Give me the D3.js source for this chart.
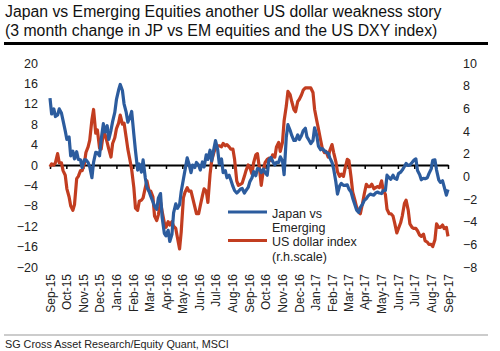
<!DOCTYPE html>
<html>
<head>
<meta charset="utf-8">
<script src="https://cdn.jsdelivr.net/npm/d3@7"></script>
<style>
  body { margin: 0; background: #fff; }
  svg { display: block; font-family: "Liberation Sans", Arial, sans-serif; }
</style>
</head>
<body>
<div id="chart"></div>
<script>
// Twice-weekly readings (Tue / Fri), Sep 2015 - Sep 2017
const startDate = new Date(2015, 8, 1);
const endDate = new Date(2017, 8, 1);

// Japan vs Emerging, 3m % change (left scale)
const japanVsEm = [
  13.1, 10.0, 11.0, 9.5, 9.8, 11.0, 10.2, 8.7, 6.7, 5.0,
  5.5, 1.8, 2.7, 1.2, 2.6, 1.1, 1.0, -0.5, 1.0, 1.0,
  0.5, -0.4, -2.5, 0.5, 2.5, 2.4, 1.8, 5.0, 8.1, 6.5,
  7.7, 5.0, 6.8, 8.5, 10.3, 12.8, 14.7, 15.8, 14.6, 12.0,
  10.3, 8.4, 9.4, 10.5, 6.0, 2.8, -1.0, 0.2, -1.4, 1.0,
  -2.5, -4.4, -5.2, -6.1, -7.2, -8.1, -8.7, -6.5, -5.6, -10.3,
  -13.4, -13.9, -12.8, -15.0, -13.6, -9.4, -7.6, -8.5, -7.8, -5.2,
  -2.8, -1.0, 1.4, 0.3, -1.5, 0.0, -0.5, 0.5, 0.0, -1.0,
  0.6, -0.4, 2.0, 1.1, 2.9, 0.8, 3.2, 4.8, 3.0, 0.2,
  1.2, -1.5, -1.1, -2.5, -2.0, -2.9, -4.2, -5.0, -5.5, -5.2,
  -4.7, -4.6, -5.5, -5.0, -4.4, -3.3, -2.5, -1.3, -2.1, -0.7,
  -0.8, -1.5, -0.8, -1.5, -2.0, 1.0, 1.5, 0.7, 0.0, 0.5,
  0.5, 1.6, 0.8, -1.9, 5.5, 7.9, 6.8, 5.8, 4.8, 4.8,
  5.9, 5.0, 5.8, 6.7, 7.2, 5.5, 4.8, 4.2, 4.8, 7.3,
  5.8, 3.7, 3.0, 3.2, 2.8, 2.5, 2.3, 1.4, 0.5, -0.8,
  -3.3, -5.7, -4.1, -3.6, -4.0, -4.0, -3.9, -4.7, -5.3, -6.5,
  -7.8, -8.8, -9.3, -8.3, -7.7, -7.0, -6.6, -6.1, -5.7, -5.8,
  -5.9, -5.5, -5.3, -5.5, -5.6, -5.0, -5.0, -2.0, -2.5, -2.8,
  -2.0, -2.6, -2.8, -1.7, -1.4, -1.0, -0.3, 0.3, -0.1, 0.0,
  0.5, 0.9, 1.2, -1.1, -1.9, -2.9, -2.6, -2.7, -2.5, -1.7,
  -0.8, 0.9, 1.0, -1.0, -2.9, -3.4, -3.1, -4.3, -5.9, -4.8
];

// US dollar index (DXY), 3m % change (right scale)
const usDollar = [
  0.85, 1.1, 1.0, 1.2, 2.0, 1.2, 1.2, 0.5, 0.1, -1.1,
  -1.8, -2.6, -3.0, -2.5, -0.2, 0.0, 0.5, 0.5, 1.1, 2.1,
  2.6, 3.2, 5.0, 5.9, 3.8, 4.1, 2.5, 2.4, 3.8, 3.7,
  3.0, 2.4, 1.7, 2.9, 3.4, 4.2, 4.7, 5.4, 4.6, 4.7,
  3.4, 2.4, 1.4, 0.6, -1.0, -2.8, -3.0, -2.2, -2.1, -1.9,
  -1.0, -0.4, -1.3, -1.3, -1.8, -3.5, -3.9, -3.4, -2.3, -3.1,
  -4.1, -4.5, -4.0, -4.3, -4.0, -4.4, -4.6, -5.4, -6.4, -4.9,
  -1.9, -1.4, -1.0, -1.3, -1.3, -1.9, -2.7, -3.3, -3.3, -2.6,
  -1.7, -1.1, -1.3, -2.3, 0.2, 1.4, 2.1, 2.5, 2.7, 2.7,
  2.6, 2.9, 2.7, 2.8, 2.6, 2.4, 2.4, 1.5, -0.4, -0.8,
  -0.7, -0.6, 0.0, 0.5, 1.0, 0.8, 0.2, 1.2, 1.9, 2.0,
  0.6, -0.8, 0.6, 1.2, 1.5, 1.6, 1.4, 1.9, 1.7, 2.6,
  3.0, 2.2, 3.0, 4.9, 6.2, 7.5, 7.2, 6.6, 5.9, 5.7,
  6.6, 6.8, 7.2, 7.6, 7.8, 7.8, 7.8, 7.8, 7.4, 5.9,
  4.9, 4.2, 3.2, 2.5, 2.1, 2.2, 1.7, 2.3, 2.8, 2.1,
  1.3, 0.4, 0.0, 0.2, 0.0, 0.7, 1.5, 1.4, -0.1, -1.4,
  -2.1, -2.7, -3.1, -3.3, -2.4, -1.6, -0.7, -0.9, -0.9, -0.7,
  -1.1, -1.0, -0.9, -1.0, -0.4, -1.2, -1.6, -2.9, -3.3, -3.3,
  -3.5, -4.1, -5.0, -4.6, -4.1, -3.5, -2.4, -2.1, -3.0, -4.2,
  -4.5, -4.6, -4.6, -4.8, -5.2, -5.3, -5.1, -5.7, -5.8, -6.0,
  -6.0, -6.2, -5.6, -4.2, -4.5, -4.5, -4.3, -4.6, -4.5, -5.3
];

const leftTicks = [20, 16, 12, 8, 4, 0, -4, -8, -12, -16, -20];
const rightTicks = [10, 8, 6, 4, 2, 0, -2, -4, -6, -8];

const titleLines = [
  "Japan vs Emerging Equities another US dollar weakness story",
  "(3 month change in JP vs EM equities and the US DXY index)"
];
const legendItems = [
  { lines: ["Japan vs", "Emerging"], color: "#2c5c9e" },
  { lines: ["US dollar index", "(r.h.scale)"], color: "#c23d20" }
];
const source = "SG Cross Asset Research/Equity Quant, MSCI";

// dates: every Tuesday and Friday
const dates = d3.timeTuesday.range(startDate, d3.timeDay.offset(endDate, 1))
  .concat(d3.timeFriday.range(startDate, d3.timeDay.offset(endDate, 1)))
  .sort((a, b) => a - b);

const width = 500, height = 351;

const svg = d3.select("#chart").append("svg")
  .attr("width", width)
  .attr("height", height);

// title
svg.append("g").selectAll("text")
  .data(titleLines)
  .join("text")
  .attr("x", 5)
  .attr("y", (d, i) => 17 + i * 19)
  .attr("font-size", "15.8px")
  .attr("fill", "#111")
  .text(d => d);

svg.append("line")
  .attr("x1", 4).attr("x2", 488)
  .attr("y1", 43.5).attr("y2", 43.5)
  .attr("stroke", "#000")
  .attr("stroke-width", 3);

// scales
const x = d3.scaleTime().domain([startDate, endDate]).range([50, 448]);
const yLeft = d3.scaleLinear().domain([-20, 20]).range([267, 63]);
const yRight = d3.scaleLinear().domain([-8, 10]).range([267, 63]);

// y axes (labels only)
const gl = svg.append("g")
  .attr("transform", "translate(38,0)")
  .call(d3.axisLeft(yLeft).tickValues(leftTicks).tickSize(0).tickPadding(0));
gl.select(".domain").remove();

const gr = svg.append("g")
  .attr("transform", "translate(463,0)")
  .call(d3.axisRight(yRight).tickValues(rightTicks).tickSize(0).tickPadding(0));
gr.select(".domain").remove();

svg.selectAll(".tick text")
  .attr("font-size", "12.5px")
  .attr("font-family", "Liberation Sans, Arial, sans-serif")
  .attr("fill", "#222");

// zero line with month ticks
const months = d3.timeMonth.range(startDate, d3.timeDay.offset(endDate, 1));
const gz = svg.append("g")
  .attr("transform", `translate(0,${yLeft(0)})`)
  .call(d3.axisBottom(x).tickValues(months).tickFormat("").tickSize(4).tickSizeOuter(0));
gz.select(".domain").attr("stroke", "#000").attr("stroke-width", 2);
gz.selectAll(".tick line").attr("stroke", "#000").attr("stroke-width", 1.5);

// month labels along the bottom
const gm = svg.append("g")
  .attr("transform", "translate(0,274)")
  .call(d3.axisBottom(x).tickValues(months).tickFormat(d3.timeFormat("%b-%y")).tickSize(0));
gm.select(".domain").remove();
gm.selectAll("text")
  .attr("transform", "rotate(-90)")
  .attr("text-anchor", "end")
  .attr("x", 0)
  .attr("y", 0)
  .attr("dx", 0)
  .attr("dy", "0.35em")
  .attr("font-size", "12px")
  .attr("font-family", "Liberation Sans, Arial, sans-serif")
  .attr("fill", "#222");

// lines
const lineLeft = d3.line().x((d, i) => x(dates[i])).y(d => yLeft(d));
const lineRight = d3.line().x((d, i) => x(dates[i])).y(d => yRight(d));

svg.append("path")
  .datum(usDollar)
  .attr("d", lineRight)
  .attr("fill", "none")
  .attr("stroke", legendItems[1].color)
  .attr("stroke-width", 3.2)
  .attr("stroke-linejoin", "round");

svg.append("path")
  .datum(japanVsEm)
  .attr("d", lineLeft)
  .attr("fill", "none")
  .attr("stroke", legendItems[0].color)
  .attr("stroke-width", 3.2)
  .attr("stroke-linejoin", "round");

// legend
const legend = svg.append("g").attr("transform", "translate(228,212)");
legendItems.forEach((item, i) => {
  const g = legend.append("g").attr("transform", `translate(0,${i * 28.5})`);
  g.append("line")
    .attr("x1", 0).attr("x2", 39)
    .attr("stroke", item.color)
    .attr("stroke-width", 3.2);
  g.selectAll("text")
    .data(item.lines)
    .join("text")
    .attr("x", 44)
    .attr("y", (d, j) => 5.5 + j * 14.5)
    .attr("font-size", "12.5px")
    .attr("fill", "#222")
    .text(d => d);
});

// source
svg.append("line")
  .attr("x1", 4).attr("x2", 488)
  .attr("y1", 335).attr("y2", 335)
  .attr("stroke", "#999")
  .attr("stroke-width", 1);

svg.append("text")
  .attr("x", 5)
  .attr("y", 348)
  .attr("font-size", "10.8px")
  .attr("fill", "#222")
  .text(source);
</script>
</body>
</html>
